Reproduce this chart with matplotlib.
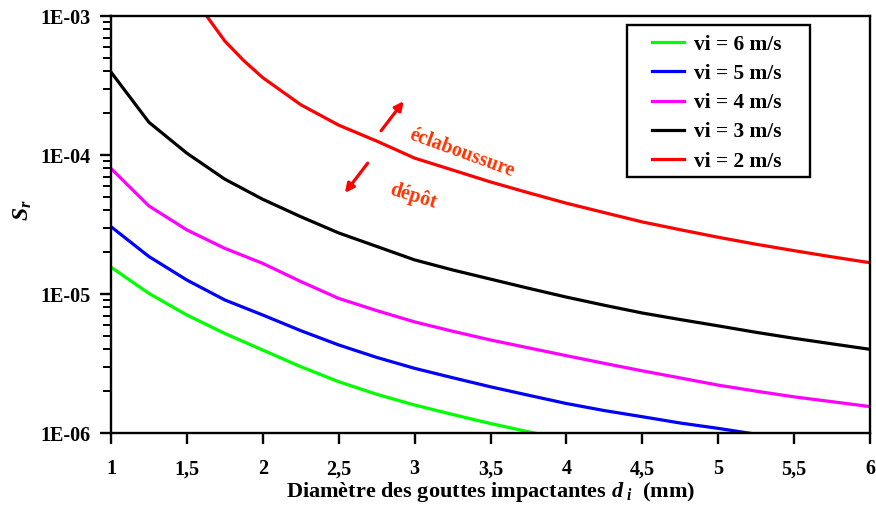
import math
import matplotlib
matplotlib.use("Agg")
import matplotlib.pyplot as plt
from matplotlib.patches import Rectangle
from matplotlib.ticker import FixedLocator, FuncFormatter, LogLocator, NullFormatter

plt.rcParams['font.family'] = 'Liberation Serif'
plt.rcParams['font.weight'] = 'bold'
plt.rcParams['mathtext.fontset'] = 'custom'
plt.rcParams['mathtext.it'] = 'Liberation Serif:italic:bold'
plt.rcParams['mathtext.rm'] = 'Liberation Serif:bold'

# diametre des gouttes (mm)
d = [1, 1.25, 1.5, 1.75, 2, 2.25, 2.5, 2.75, 3, 3.25, 3.5, 3.75, 4,
     4.25, 4.5, 4.75, 5, 5.25, 5.5, 5.75, 6]
d_red = [1.63, 1.75, 1.875, 2, 2.25, 2.5, 2.75, 3, 3.25, 3.5, 3.75, 4,
         4.25, 4.5, 4.75, 5, 5.25, 5.5, 5.75, 6]

sr_v6 = [1.56e-5, 1.01e-5, 7.06e-6, 5.2e-6, 3.95e-6, 3.0e-6, 2.34e-6, 1.9e-6,
         1.59e-6, 1.36e-6, 1.17e-6, 1.02e-6, 0.9e-6, 0.8e-6, 0.72e-6, 0.65e-6,
         0.6e-6, 0.55e-6, 0.5e-6, 0.46e-6, 0.43e-6]
sr_v5 = [3.05e-5, 1.86e-5, 1.26e-5, 9.06e-6, 7.06e-6, 5.45e-6, 4.3e-6, 3.5e-6,
         2.92e-6, 2.5e-6, 2.15e-6, 1.87e-6, 1.63e-6, 1.45e-6, 1.31e-6, 1.18e-6,
         1.08e-6, 0.98e-6, 0.9e-6, 0.83e-6, 0.77e-6]
sr_v4 = [8.0e-5, 4.3e-5, 2.89e-5, 2.13e-5, 1.66e-5, 1.23e-5, 9.3e-6, 7.6e-6,
         6.3e-6, 5.4e-6, 4.67e-6, 4.1e-6, 3.6e-6, 3.17e-6, 2.8e-6, 2.49e-6,
         2.21e-6, 2.0e-6, 1.82e-6, 1.68e-6, 1.55e-6]
sr_v3 = [3.95e-4, 1.72e-4, 1.03e-4, 6.7e-5, 4.8e-5, 3.6e-5, 2.75e-5, 2.2e-5,
         1.76e-5, 1.49e-5, 1.28e-5, 1.1e-5, 9.5e-6, 8.3e-6, 7.3e-6, 6.55e-6,
         5.9e-6, 5.3e-6, 4.8e-6, 4.38e-6, 4.0e-6]
sr_v2 = [1.0e-3, 6.6e-4, 4.77e-4, 3.6e-4, 2.3e-4, 1.64e-4, 1.26e-4, 9.5e-5,
         7.8e-5, 6.4e-5, 5.35e-5, 4.5e-5, 3.85e-5, 3.3e-5, 2.9e-5, 2.56e-5,
         2.28e-5, 2.05e-5, 1.85e-5, 1.68e-5]

x_ticks = [1, 1.5, 2, 2.5, 3, 3.5, 4, 4.5, 5, 5.5, 6]

fig = plt.figure(figsize=(8.76, 5.08), dpi=100)
ax = fig.add_axes([0.1267, 0.1476, 0.8665, 0.8209])

lw = 2.3
ax.plot(d, sr_v6, color='#00FF00', lw=lw, label='vi = 6 m/s')
ax.plot(d, sr_v5, color='#0000FF', lw=lw, label='vi = 5 m/s')
ax.plot(d, sr_v4, color='#FF00FF', lw=lw, label='vi = 4 m/s')
ax.plot(d, sr_v3, color='#000000', lw=lw, label='vi = 3 m/s')
ax.plot(d_red, sr_v2, color='#FF0000', lw=lw, label='vi = 2 m/s')

ax.set_yscale('log')
ax.set_xlim(1, 6)
ax.set_ylim(1e-6, 1e-3)

ax.xaxis.set_major_locator(FixedLocator(x_ticks))
ax.xaxis.set_major_formatter(FuncFormatter(lambda v, p: ('%g' % v).replace('.', ',')))
ax.yaxis.set_major_locator(LogLocator(base=10, numticks=10))
ax.yaxis.set_major_formatter(FuncFormatter(lambda v, p: '1E-%02d' % round(-math.log10(v))))
ax.yaxis.set_minor_locator(LogLocator(base=10, subs=range(2, 10), numticks=20))
ax.yaxis.set_minor_formatter(NullFormatter())

for s in ax.spines.values():
    s.set_linewidth(1.7)
ax.tick_params(axis='x', which='major', direction='out', length=8, width=1.7,
               labelsize=14.5, pad=11)
ax.tick_params(axis='y', which='major', direction='out', length=8, width=1.7,
               labelsize=14.5, pad=7)
ax.tick_params(axis='y', which='minor', direction='out', length=6, width=1.4)

ax.set_xlabel('Diamètre des gouttes impactantes $d_{\\ i}$  (mm)', fontsize=16,
              fontweight='bold', va='top')
ax.xaxis.set_label_coords(0.5, -0.113)
ax.set_ylabel('$S_r$', fontsize=17)
ax.yaxis.set_label_coords(-0.102, 0.535)

# legende : cadre dessine a part
ax.add_patch(Rectangle((0.680, 0.614), 0.241, 0.364, transform=ax.transAxes,
                       facecolor='white', edgecolor='black', lw=1.7, zorder=5))
leg = ax.legend(loc='upper left', bbox_to_anchor=(0.713, 0.955), fontsize=15.4,
                frameon=False, handlelength=1.5, handletextpad=0.45,
                borderpad=0, labelspacing=0.43, borderaxespad=0)
leg.set_zorder(6)

# annotations
ax.annotate('', xy=(2.939, 2.53e-4), xytext=(2.768, 1.44e-4),
            arrowprops=dict(arrowstyle='-|>', color='#FF0000', lw=2.3,
                            mutation_scale=13))
ax.annotate('', xy=(2.530, 5.15e-5), xytext=(2.702, 9.06e-5),
            arrowprops=dict(arrowstyle='-|>', color='#FF0000', lw=2.3,
                            mutation_scale=13))
ax.text(3.315, 1.03e-4, 'éclaboussure', color='#FF3300', fontsize=14.5,
        fontweight='bold', rotation=-20, ha='center', va='center')
ax.text(2.992, 5.07e-5, 'dépôt', color='#FF3300', fontsize=14.5,
        fontweight='bold', rotation=-17, ha='center', va='center')

fig.savefig('out.png', dpi=100)
